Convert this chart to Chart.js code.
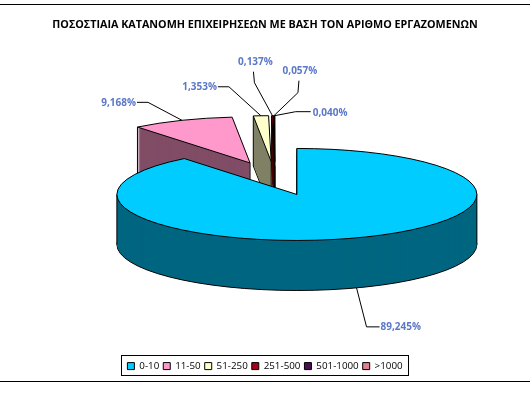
<!DOCTYPE html>
<html>
<head>
<meta charset="utf-8">
<title>Chart</title>
<script src="https://cdn.jsdelivr.net/npm/chart.js@4"></script>
<style>
  html, body { margin: 0; padding: 0; background: #fff; }
  #wrap { width: 530px; height: 394px; position: relative; }
</style>
</head>
<body>
<div id="wrap"><canvas id="chart" width="530" height="394"></canvas></div>
<script>
const chartTitle = 'ΠΟΣΟΣΤΙΑΙΑ ΚΑΤΑΝΟΜΗ ΕΠΙΧΕΙΡΗΣΕΩΝ ΜΕ ΒΑΣΗ ΤΟΝ ΑΡΙΘΜΟ ΕΡΓΑΖΟΜΕΝΩΝ';
const categories = ['0-10', '11-50', '51-250', '251-500', '501-1000', '>1000'];
const shares = [89.245, 9.168, 1.353, 0.137, 0.057, 0.040];
const topColors = ['#00ccff', '#ff99cc', '#ffffcc', '#a80018', '#4a0f50', '#e08090'];
const sideColors = ['#006680', '#804d66', '#808066', '#500000', '#250828', '#704048'];

// 3D look of the pie
const tilt = 0.2556;
const depth = 50;
const shiftX = 10;
const shiftY = -17.5;

// Leader lines: elbows relative to the slice's outer edge, then the label's anchor point
const leaders = [
  { drop: depth, elbows: [[10, 39], [23, 39]], text: [24, 39], align: 'left' },
  { drop: 0, elbows: [[-34, -18], [-45, -18]], text: [-46, -17], align: 'right' },
  { drop: 0, elbows: [[-32, -29], [-43, -29]], text: [-44, -29], align: 'right' },
  { drop: 0, elbows: [[-18, -33], [-19, -44]], text: [-17, -54], align: 'center' },
  { drop: 0, elbows: [[24, -23], [25, -35]], text: [26, -45], align: 'center' },
  { drop: 0, elbows: [[21, -4], [36, -4]], text: [38, -3], align: 'left' }
];

function slicePath(ctx, arc, drop) {
  const mid = (arc.startAngle + arc.endAngle) / 2;
  const off = arc.options.offset;
  const cx = arc.x + Math.cos(mid) * off;
  const cy = arc.y + Math.sin(mid) * off;
  ctx.save();
  ctx.translate(shiftX, shiftY + arc.y + drop);
  ctx.scale(1, tilt);
  ctx.translate(0, -arc.y);
  ctx.beginPath();
  ctx.moveTo(cx, cy);
  ctx.arc(cx, cy, arc.outerRadius, arc.startAngle, arc.endAngle);
  ctx.closePath();
  ctx.restore();
}

// screen position of a point on the tilted slice, at angle a and distance r from its tip
function slicePoint(arc, a, r) {
  const mid = (arc.startAngle + arc.endAngle) / 2;
  const off = arc.options.offset;
  const x = arc.x + Math.cos(mid) * off + Math.cos(a) * r;
  const y = Math.sin(mid) * off + Math.sin(a) * r;
  return [x + shiftX, arc.y + shiftY + y * tilt];
}

const pie3d = {
  id: 'pie3d',
  beforeDatasetsDraw(chart) {
    const ctx = chart.ctx;
    const arcs = chart.getDatasetMeta(0).data;
    ctx.save();
    ctx.lineWidth = 1;
    ctx.strokeStyle = '#000';
    // back slices first, the big slice covers the feet of the others
    for (let i = arcs.length - 1; i >= 0; i--) {
      const arc = arcs[i];
      ctx.fillStyle = sideColors[i];
      slicePath(ctx, arc, depth);
      ctx.fill();
      ctx.stroke();
      for (let d = depth - 1; d > 0; d--) {
        slicePath(ctx, arc, d);
        ctx.fill();
      }
      // vertical edges: cut corners and the outline where the rim turns
      const edges = [slicePoint(arc, arc.startAngle, arc.outerRadius)];
      if (arc.circumference < Math.PI) edges.push(slicePoint(arc, 0, 0));
      [0, Math.PI].forEach((a) => {
        if ((a > arc.startAngle && a < arc.endAngle) || (a + Math.PI * 2 < arc.endAngle)) {
          edges.push(slicePoint(arc, a, arc.outerRadius));
        }
      });
      edges.forEach((p) => {
        ctx.beginPath();
        ctx.moveTo(p[0], p[1]);
        ctx.lineTo(p[0], p[1] + depth);
        ctx.stroke();
      });
      ctx.fillStyle = topColors[i];
      slicePath(ctx, arc, 0);
      ctx.fill();
      ctx.stroke();
    }
    ctx.restore();
    return false;
  },
  afterDraw(chart) {
    const ctx = chart.ctx;
    const arcs = chart.getDatasetMeta(0).data;
    ctx.save();
    // rules above and below the chart
    ctx.strokeStyle = '#000';
    ctx.lineWidth = 1;
    ctx.beginPath();
    ctx.moveTo(0, 4.5);
    ctx.lineTo(530, 4.5);
    ctx.moveTo(0, 381.5);
    ctx.lineTo(530, 381.5);
    ctx.stroke();

    // legend frame
    const boxes = chart.legend.legendHitBoxes;
    const last = boxes[boxes.length - 1];
    ctx.strokeRect(Math.round(boxes[0].left) - 5.5, Math.round(boxes[0].top) - 5.5,
      Math.round(last.left + last.width - boxes[0].left) + 12, Math.round(boxes[0].height) + 10);

    // data labels
    ctx.font = 'bold 10px "Open Sans"';
    ctx.textBaseline = 'middle';
    arcs.forEach((arc, i) => {
      const mid = (arc.startAngle + arc.endAngle) / 2;
      const route = leaders[i];
      const edge = slicePoint(arc, mid, arc.outerRadius);
      const p = [edge[0], edge[1] + route.drop];
      ctx.beginPath();
      ctx.moveTo(p[0], p[1]);
      route.elbows.forEach((e) => ctx.lineTo(p[0] + e[0], p[1] + e[1]));
      ctx.strokeStyle = '#000';
      ctx.stroke();
      ctx.fillStyle = '#5b78c8';
      ctx.textAlign = route.align;
      const label = shares[i].toFixed(3).replace('.', ',') + '%';
      ctx.fillText(label, p[0] + route.text[0], p[1] + route.text[1]);
    });
    ctx.restore();
  }
};

new Chart(document.getElementById('chart'), {
  type: 'pie',
  data: {
    labels: categories,
    datasets: [{
      data: shares,
      backgroundColor: topColors,
      borderColor: '#000',
      borderWidth: 1,
      offset: 66,
      radius: 180
    }]
  },
  options: {
    responsive: false,
    animation: false,
    layout: { padding: { top: 18, bottom: 13 } },
    plugins: {
      title: {
        display: true,
        text: chartTitle,
        color: '#000',
        font: { family: '"Open Sans"', size: 10.75, weight: 'bold' },
        padding: { top: 0, bottom: 4 }
      },
      legend: {
        position: 'bottom',
        labels: {
          color: '#000',
          boxWidth: 7,
          boxHeight: 7,
          padding: 4,
          font: { family: '"Open Sans"', size: 9.8 }
        }
      },
      tooltip: { enabled: false }
    }
  },
  plugins: [pie3d]
});
</script>
</body>
</html>
